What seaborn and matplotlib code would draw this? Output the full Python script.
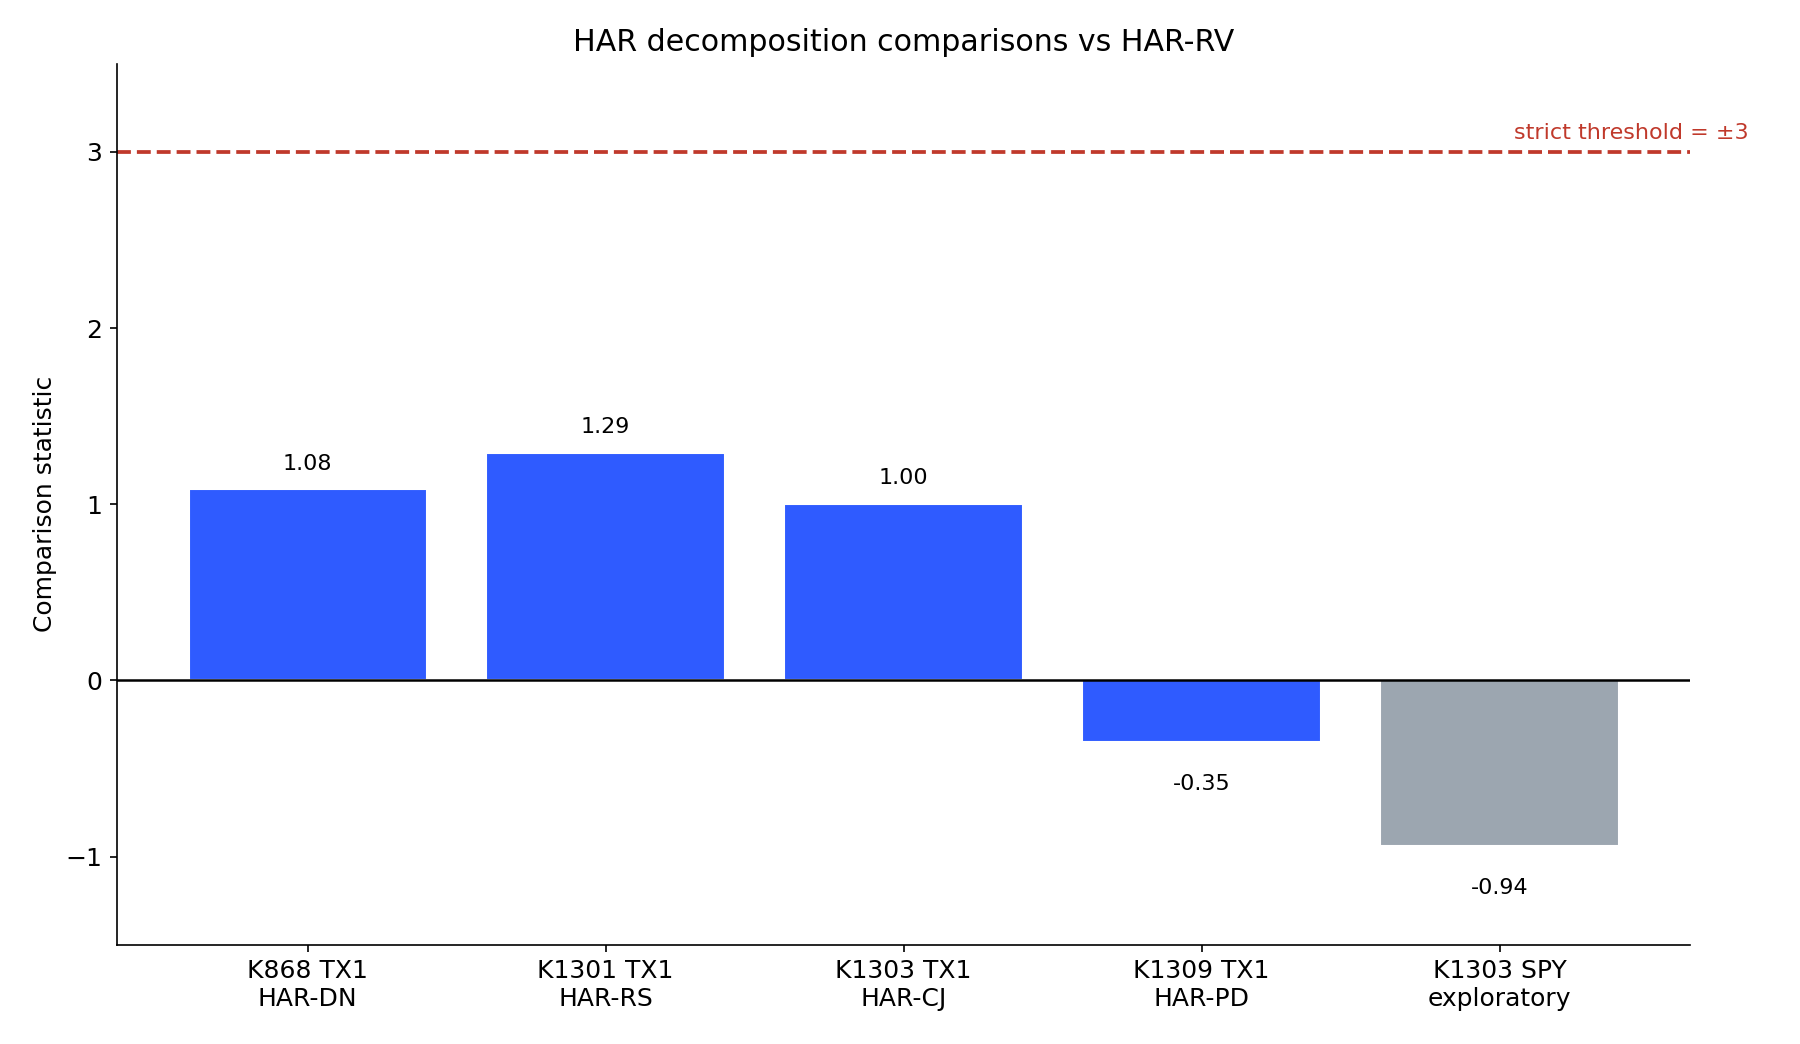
import matplotlib
matplotlib.use("Agg")
import matplotlib.pyplot as plt
import seaborn as sns
import pandas as pd

categories = ["K868 TX1\nHAR-DN", "K1301 TX1\nHAR-RS", "K1303 TX1\nHAR-CJ",
              "K1309 TX1\nHAR-PD", "K1303 SPY\nexploratory"]
values = [1.084, 1.29, 1.00, -0.35, -0.94]
colors = ["#2F5BFF", "#2F5BFF", "#2F5BFF", "#2F5BFF", "#9CA6B0"]
threshold = 3

sns.set_style("ticks", {"text.color": "black", "axes.labelcolor": "black",
                        "xtick.color": "black", "ytick.color": "black",
                        "axes.edgecolor": "black",
                        "xtick.major.size": 3.5, "ytick.major.size": 3.5})
plt.rcParams['font.family'] = ['DejaVu Sans']

fig, ax = plt.subplots(figsize=(12, 6.96), dpi=150)
fig.subplots_adjust(left=0.065, right=0.939, top=0.939, bottom=0.095)

df = pd.DataFrame({"cat": categories, "val": values})
sns.barplot(data=df, x="cat", y="val", hue="cat", palette=colors, legend=False,
            width=0.8, saturation=1, ax=ax)

ax.axhline(0, color="black", lw=1.2)
ax.axhline(threshold, color="#C0392B", ls="--", lw=1.8)
ax.text(4.05, threshold + 0.05, "strict threshold = ±3", color="#C0392B",
        ha="left", va="bottom", fontsize=10.7)

for i, v in enumerate(values):
    if v >= 0:
        ax.text(i, v + 0.09, f"{v:.2f}", ha="center", va="bottom", fontsize=10.7)
    else:
        ax.text(i, v - 0.18, f"{v:.2f}", ha="center", va="top", fontsize=10.7)

ax.set_ylim(-1.5, 3.5)
ax.set_xlim(-0.64, 4.64)
ax.set_yticks([-1, 0, 1, 2, 3])
ax.set_xlabel("")
ax.set_ylabel("Comparison statistic", fontsize=12)
ax.set_title("HAR decomposition comparisons vs HAR-RV", fontsize=14.4)
ax.tick_params(labelsize=12)
sns.despine(ax=ax)

fig.savefig("out.png", dpi=150)
